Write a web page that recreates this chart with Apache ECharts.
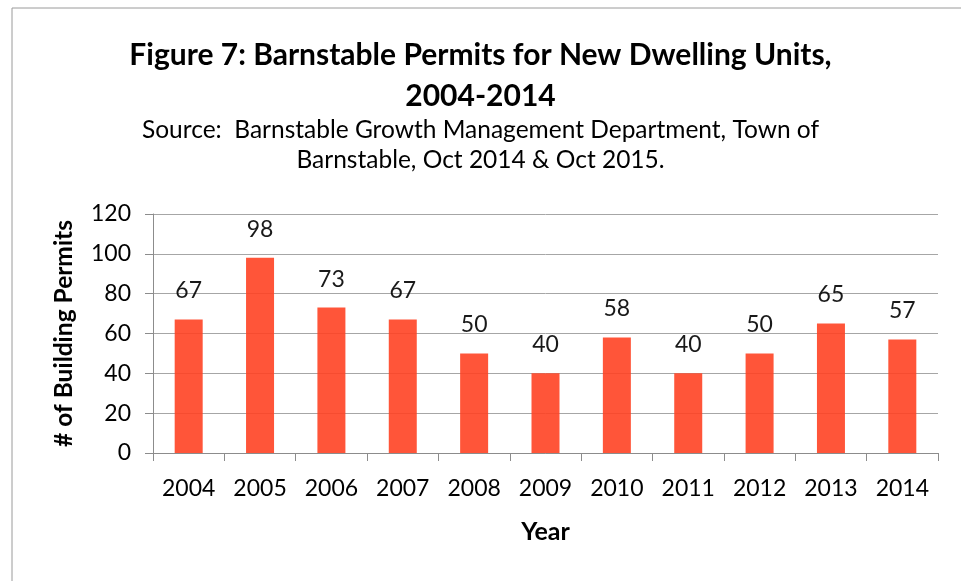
<!DOCTYPE html>
<html>
<head>
<meta charset="utf-8">
<script src="https://cdn.jsdelivr.net/npm/echarts@6/dist/echarts.min.js"></script>
<style>
  html, body { margin: 0; padding: 0; background: #fff; }
  #chart { width: 961px; height: 581px; }
</style>
</head>
<body>
<div id="chart"></div>
<script>
// data
var years = ['2004', '2005', '2006', '2007', '2008', '2009', '2010', '2011', '2012', '2013', '2014'];
var permits = [67, 98, 73, 67, 50, 40, 58, 40, 50, 65, 57];
var yTicks = [0, 20, 40, 60, 80, 100, 120];

var font = 'Lato, "Open Sans", sans-serif';
var chart = echarts.init(document.getElementById('chart'));

var option = {
  backgroundColor: '#fff',
  animation: false,
  graphic: [
    {
      type: 'rect',
      shape: { x: 12, y: 8, width: 1000, height: 700 },
      style: { fill: 'none', stroke: '#9a9a9a', lineWidth: 1 },
      z: -1
    },
    {
      type: 'text', left: 'center', top: 40,
      style: { text: 'Figure 7: Barnstable Permits for New Dwelling Units,', font: 'bold 30px ' + font, fill: '#000' }
    },
    {
      type: 'text', left: 'center', top: 81,
      style: { text: '2004-2014', font: 'bold 30px ' + font, fill: '#000' }
    },
    {
      type: 'text', left: 'center', top: 118,
      style: { text: 'Source:  Barnstable Growth Management Department, Town of', font: '24.5px ' + font, fill: '#000' }
    },
    {
      type: 'text', left: 'center', top: 148,
      style: { text: 'Barnstable, Oct 2014 & Oct 2015.', font: '24.5px ' + font, fill: '#000' }
    }
  ],
  grid: { left: 153, right: 23, top: 214, bottom: 128 },
  xAxis: {
    type: 'category',
    data: years,
    name: 'Year',
    nameLocation: 'middle',
    nameGap: 66,
    nameTextStyle: { fontFamily: font, fontWeight: 'bold', fontSize: 25, color: '#000' },
    axisLine: { lineStyle: { color: '#8c8c8c', width: 1 } },
    axisTick: { show: true, length: 8, lineStyle: { color: '#8c8c8c' } },
    axisLabel: { fontFamily: font, fontSize: 23, color: '#000', margin: 24 }
  },
  yAxis: {
    type: 'value',
    min: yTicks[0],
    max: yTicks[yTicks.length - 1],
    interval: 20,
    name: '# of Building Permits',
    nameLocation: 'middle',
    nameRotate: 90,
    nameGap: 76,
    nameTextStyle: { fontFamily: font, fontWeight: 'bold', fontSize: 24.5, color: '#000' },
    axisLine: { show: true, lineStyle: { color: '#8c8c8c', width: 1 } },
    axisTick: { show: true, length: 8, lineStyle: { color: '#8c8c8c' } },
    axisLabel: { fontFamily: font, fontSize: 23, color: '#000', margin: 22 },
    splitLine: { lineStyle: { color: '#a6a6a6', width: 1 } }
  },
  series: [
    {
      type: 'bar',
      data: permits,
      barWidth: 28,
      itemStyle: { color: '#ff4324', opacity: 0.9 },
      label: {
        show: true,
        position: 'top',
        distance: 17,
        fontFamily: font,
        fontSize: 23,
        color: '#000'
      }
    }
  ]
};
chart.setOption(option);
</script>
</body>
</html>
